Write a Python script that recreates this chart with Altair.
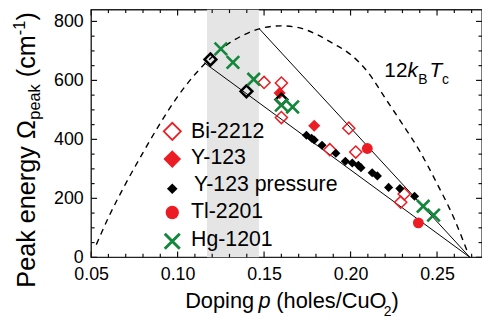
import altair as alt
import pandas as pd

# ---------------- data ----------------
bi_p = [0.150, 0.160, 0.160, 0.199, 0.188, 0.203, 0.231, 0.229]
bi_w = [593, 591, 474, 438, 365, 357, 215, 187]

y123_p = [0.159, 0.179]
y123_w = [557, 446]

yp_p = [0.1745, 0.1775, 0.1790, 0.1835, 0.1915, 0.1970, 0.2010, 0.2045,
        0.2060, 0.2125, 0.2155, 0.2220, 0.2285, 0.2370]
yp_w = [414, 404, 398, 380, 353, 326, 320, 312, 304, 287, 276, 237, 233, 207]

ob_p = [0.119, 0.1398, 0.160]
ob_w = [671, 563, 535]

tl_p = [0.2097, 0.2392]
tl_w = [369, 117]

hg_p = [0.125, 0.132, 0.144, 0.160, 0.1665, 0.242, 0.248]
hg_w = [707, 661, 604, 516, 510, 173, 143]

dash_p = [0.053, 0.06, 0.07, 0.08, 0.09, 0.10, 0.11, 0.12, 0.13, 0.14, 0.15,
          0.16, 0.17, 0.18, 0.19, 0.20, 0.21, 0.22, 0.23, 0.24, 0.25, 0.26, 0.268]
dash_w = [43, 135, 250, 355, 455, 545, 620, 680, 727, 759, 779,
          785, 779, 757, 725, 688, 628, 540, 452, 360, 250, 130, 12]

line_id = ["upper", "upper", "lower", "lower"]
line_p = [0.1474, 0.269, 0.1154, 0.269]
line_w = [774, 0, 660, 0]

band_p = [0.117]
band_p2 = [0.147]

x_major = [0.05, 0.10, 0.15, 0.20, 0.25]
x_minor = [0.06, 0.07, 0.08, 0.09, 0.11, 0.12, 0.13, 0.14, 0.16, 0.17, 0.18,
           0.19, 0.21, 0.22, 0.23, 0.24, 0.26, 0.27]
y_major = [0, 200, 400, 600, 800]
y_minor = [50, 100, 150, 250, 300, 350, 450, 500, 550, 650, 700, 750]

legend_labels = ["Bi-2212", "Y-123", "Y-123 pressure", "Tl-2201", "Hg-1201"]

# ---------------- styling ----------------
FONT = "Liberation Sans"
RED = "#ec1c24"
GREEN = "#14873c"
TK = "#111111"
XPATH = "M-1,-1L1,1M-1,1L1,-1"
W, H = 395, 250.3
xs = alt.Scale(domain=[0.05, 0.276], nice=False, zero=False)
ys = alt.Scale(domain=[0, 840], nice=False, zero=False)

xaxis = alt.Axis(values=x_major, format=".2f", ticks=False, domain=False, grid=False,
                 labelFont=FONT, labelFontSize=18, labelColor="black", labelPadding=8,
                 labelFlush=False, title=None)
yaxis = alt.Axis(values=y_major, format="d", ticks=False, domain=False, grid=False,
                 labelFont=FONT, labelFontSize=18, labelColor="black", labelPadding=8,
                 labelFlush=False, title=None)


def X():
    return alt.X("p:Q", scale=xs, axis=xaxis)


def Y():
    return alt.Y("w:Q", scale=ys, axis=yaxis)


def pts(p, w):
    return pd.DataFrame({"p": p, "w": w})


band = alt.Chart(pd.DataFrame({"p": band_p, "p2": band_p2})).mark_rect(
    color="#e5e5e5").encode(x=X(), x2="p2:Q", y=alt.value(0), y2=alt.value(H))

# inward ticks on all four sides
ticks = []
for vals, L in [(x_major, 6), (x_minor, 3.5)]:
    df = pd.DataFrame({"p": vals})
    ticks.append(alt.Chart(df).mark_rule(color=TK, strokeWidth=1.2).encode(
        x=X(), y=alt.value(H), y2=alt.value(H - L)))
    ticks.append(alt.Chart(df).mark_rule(color=TK, strokeWidth=1.2).encode(
        x=X(), y=alt.value(0), y2=alt.value(L)))
for vals, L in [(y_major, 6), (y_minor, 3.5)]:
    df = pd.DataFrame({"w": vals})
    ticks.append(alt.Chart(df).mark_rule(color=TK, strokeWidth=1.2).encode(
        y=Y(), x=alt.value(0), x2=alt.value(L)))
    ticks.append(alt.Chart(df).mark_rule(color=TK, strokeWidth=1.2).encode(
        y=Y(), x=alt.value(W), x2=alt.value(W - L)))

dashed = alt.Chart(pts(dash_p, dash_w)).mark_line(
    color="black", strokeWidth=1.4, strokeDash=[6, 5], interpolate="monotone").encode(
    x=X(), y=Y())

lines = alt.Chart(pd.DataFrame({"id": line_id, "p": line_p, "w": line_w})).mark_line(
    color="black", strokeWidth=1).encode(x=X(), y=Y(), detail="id:N")

bi = alt.Chart(pts(bi_p, bi_w)).mark_point(
    shape="diamond", filled=False, stroke=RED, strokeWidth=1.5, size=150, opacity=1
).encode(x=X(), y=Y())
y123 = alt.Chart(pts(y123_p, y123_w)).mark_point(
    shape="diamond", filled=True, color=RED, size=150, opacity=1).encode(x=X(), y=Y())
ob = alt.Chart(pts(ob_p, ob_w)).mark_point(
    shape="diamond", filled=False, stroke="black", strokeWidth=2.6, size=140, opacity=1
).encode(x=X(), y=Y())
yp = alt.Chart(pts(yp_p, yp_w)).mark_point(
    shape="diamond", filled=True, color="black", size=85, opacity=1).encode(x=X(), y=Y())
tl = alt.Chart(pts(tl_p, tl_w)).mark_point(
    shape="circle", filled=True, color=RED, size=120, opacity=1).encode(x=X(), y=Y())
hg = alt.Chart(pts(hg_p, hg_w)).mark_point(
    shape=XPATH, filled=False, stroke=GREEN, strokeWidth=2.7, size=160, opacity=1
).encode(x=X(), y=Y())

# ---------------- legend (manual, inside the plot) ----------------
leg_style = [
    dict(shape="diamond", filled=False, stroke=RED, strokeWidth=1.8, size=300),
    dict(shape="diamond", filled=True, color=RED, size=320),
    dict(shape="diamond", filled=True, color="black", size=115),
    dict(shape="circle", filled=True, color=RED, size=180),
    dict(shape=XPATH, filled=False, stroke=GREEN, strokeWidth=3, size=230),
]
leg_mark_y = [123, 151, 181, 205, 234]
leg_text_x = [101, 101, 104, 101, 101]
leg_text_y = [129.7, 156.3, 183.5, 211, 238.7]

legend_layers = []
for i, lab in enumerate(legend_labels):
    d = pd.DataFrame({"label": [lab]})
    legend_layers.append(alt.Chart(d).mark_point(opacity=1, **leg_style[i]).encode(
        x=alt.value(82), y=alt.value(leg_mark_y[i])))
    legend_layers.append(alt.Chart(d).mark_text(
        font=FONT, fontSize=21.5, align="left", baseline="alphabetic", color="black").encode(
        x=alt.value(leg_text_x[i]), y=alt.value(leg_text_y[i]), text="label:N"))


# ---------------- text pieces: titles and annotation ----------------
def txt(t, x, y, **kw):
    d = pd.DataFrame({"t": [t]})
    return alt.Chart(d).mark_text(font=FONT, color="black", baseline="alphabetic",
                                  align="left", **kw).encode(
        x=alt.value(x), y=alt.value(y), text="t:N")


texts = [
    # x title: Doping p (holes/CuO2)
    txt("Doping", 95, 302, fontSize=22),
    txt("p", 169.1, 302, fontSize=22, fontStyle="italic"),
    txt("(holes/CuO", 187.2, 302, fontSize=22),
    txt("2", 295.8, 310, fontSize=14),
    txt(")", 303.6, 302, fontSize=22),
    # y title (rotated, reads upwards): Peak energy Ω_peak (cm^-1)
    txt("Peak energy Ω", -57, 281, fontSize=25.5, angle=270),
    txt("peak", -52, 111.2, fontSize=16.5, angle=270),
    txt("(cm", -57, 68.3, fontSize=25.5, angle=270),
    txt("-1", -66.5, 25.8, fontSize=16.5, angle=270),
    txt(")", -57, 11.1, fontSize=25.5, angle=270),
    # annotation 12 k_B T_c
    txt("12", 296.3, 68, fontSize=21),
    txt("k", 319.7, 68, fontSize=21, fontStyle="italic"),
    txt("B", 330.5, 75.3, fontSize=14),
    txt("T", 342, 68, fontSize=21, fontStyle="italic"),
    txt("c", 354.5, 75.3, fontSize=14),
]

chart = alt.layer(
    band, *ticks, dashed, lines, bi, y123, ob, yp, tl, hg, *legend_layers, *texts
).properties(
    width=W, height=H,
    autosize=alt.AutoSizeParams(type="none"),
    padding={"left": 84, "top": 0, "right": 0, "bottom": 62},
).configure_view(stroke="#222222", strokeWidth=1.4)

chart.save("out.html", embed_options={"renderer": "svg", "actions": False})
